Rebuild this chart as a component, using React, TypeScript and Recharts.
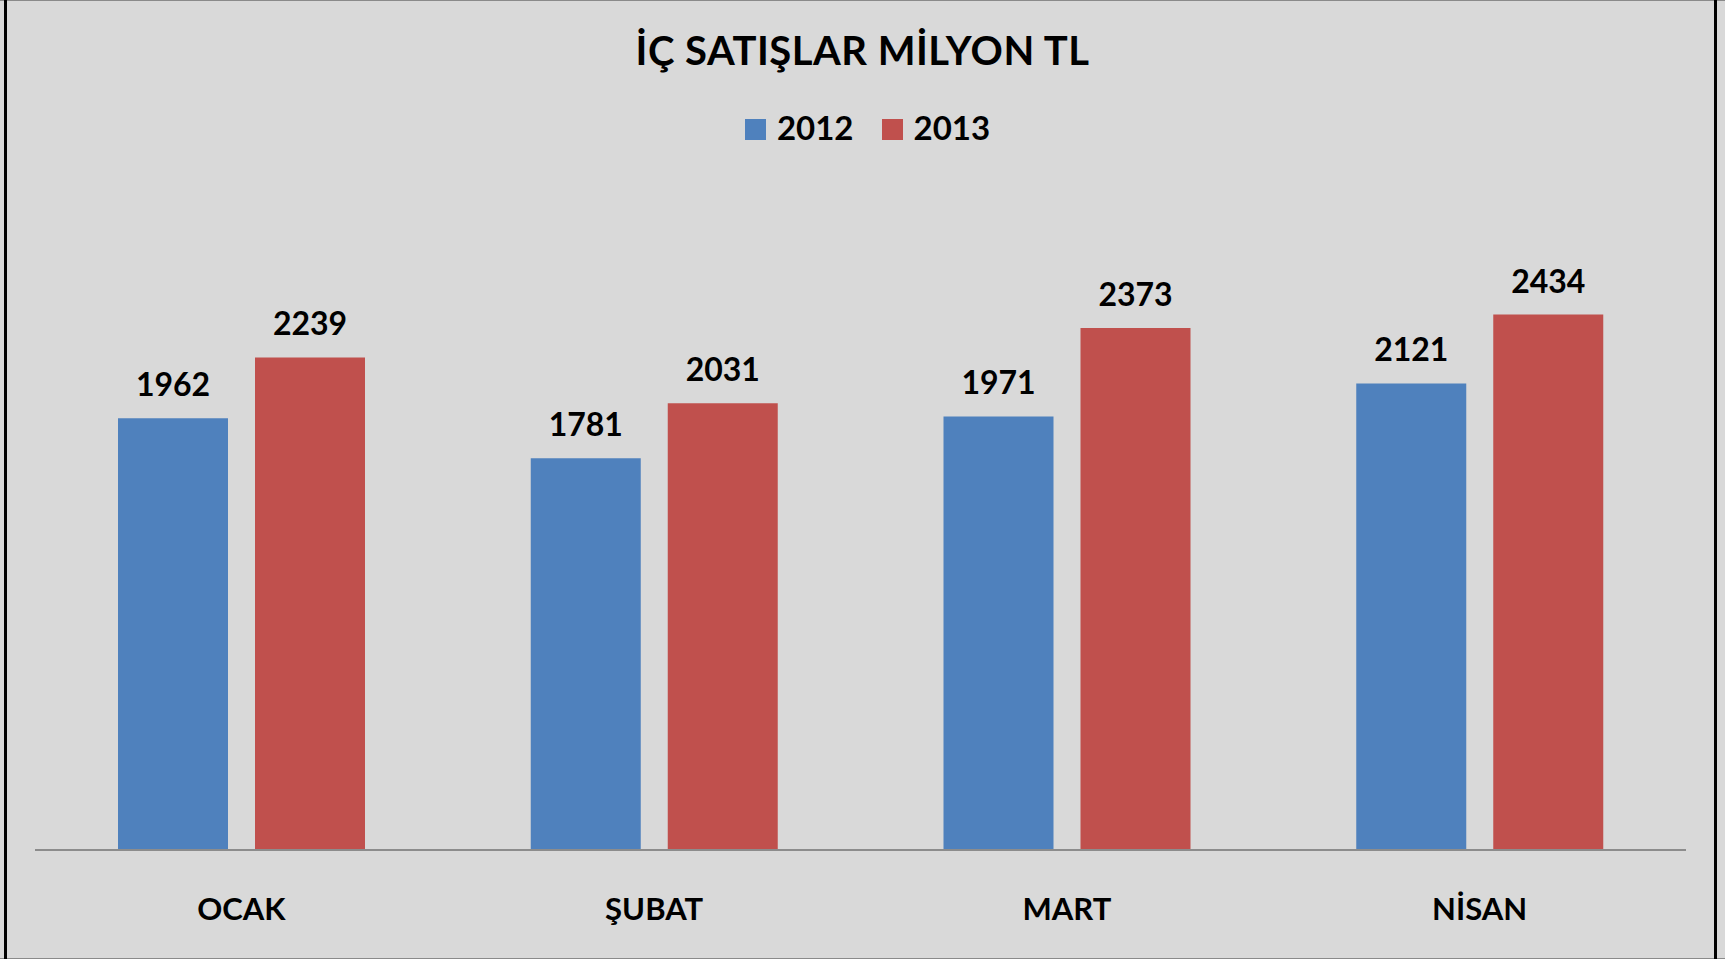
import React from 'react';
import { BarChart, Bar, XAxis, YAxis, Legend, LabelList } from 'recharts';

const months = ['OCAK', 'ŞUBAT', 'MART', 'NİSAN'];
const sales2012 = [1962, 1781, 1971, 2121];
const sales2013 = [2239, 2031, 2373, 2434];
const seriesNames = ['2012', '2013'];
const titleText = 'İÇ SATIŞLAR MİLYON TL';

const data = months.map((m, i) => ({ month: m, s2012: sales2012[i], s2013: sales2013[i] }));

const FONT = 'Lato, "Open Sans", sans-serif';
const BG = '#D9D9D9';
const BLUE = '#4F81BD';
const RED = '#C0504D';

const LegendContent = (props: any) => {
  const payload = props.payload || [];
  return (
    <div style={{ display: 'flex', justifyContent: 'center', alignItems: 'flex-start', height: 40, paddingLeft: 10 }}>
      {payload.map((p: any, i: number) => (
        <div key={i} style={{ display: 'flex', alignItems: 'flex-start', marginLeft: i === 0 ? 0 : 28 }}>
          <div style={{ width: 21, height: 21, marginTop: 12, background: p.color, marginRight: 11 }} />
          <span style={{ fontFamily: FONT, fontWeight: 700, fontSize: 33, lineHeight: '40px', color: '#000' }}>
            {p.value}
          </span>
        </div>
      ))}
    </div>
  );
};

export default function App() {
  return (
    <div style={{ position: 'absolute', left: 0, top: 0, width: 1725, height: 959, background: BG }}>
      <div style={{ position: 'absolute', left: 0, top: 0, width: 1725, height: 1, background: '#8a8a8a' }} />
      <div style={{ position: 'absolute', left: 0, top: 958, width: 1725, height: 1, background: '#8a8a8a' }} />
      <div style={{ position: 'absolute', left: 4, top: 0, width: 3, height: 959, background: '#000' }} />
      <div style={{ position: 'absolute', left: 1714, top: 0, width: 3, height: 959, background: '#000' }} />
      <div
        style={{
          position: 'absolute',
          left: 0,
          top: 25,
          width: 1725,
          height: 50,
          lineHeight: '50px',
          textAlign: 'center',
          fontFamily: FONT,
          fontWeight: 700,
          fontSize: 40,
          letterSpacing: 0.5,
          color: '#000',
        }}
      >
        {titleText}
      </div>
      <div style={{ position: 'absolute', left: 0, top: 0 }}>
        <BarChart
          width={1725}
          height={959}
          data={data}
          margin={{ top: 190, right: 39, left: 35, bottom: 49 }}
          barSize={110}
          barGap={27}
        >
          <XAxis
            dataKey="month"
            axisLine={{ stroke: '#8c8c8c', strokeWidth: 2 }}
            tickLine={false}
            tickSize={0}
            tickMargin={48}
            height={60}
            tick={{ fill: '#000', fontFamily: FONT, fontWeight: 700, fontSize: 31 }}
          />
          <YAxis hide domain={[0, 3000]} />
          <Legend
            layout="horizontal"
            verticalAlign="middle"
            align="center"
            content={<LegendContent />}
            wrapperStyle={{ top: 107, left: 0, width: 1725 }}
          />
          <Bar dataKey="s2012" name={seriesNames[0]} fill={BLUE} isAnimationActive={false}>
            <LabelList dataKey="s2012" position="top" offset={22} fill="#000" fontFamily={FONT} fontWeight={700} fontSize={32} />
          </Bar>
          <Bar dataKey="s2013" name={seriesNames[1]} fill={RED} isAnimationActive={false}>
            <LabelList dataKey="s2013" position="top" offset={22} fill="#000" fontFamily={FONT} fontWeight={700} fontSize={32} />
          </Bar>
        </BarChart>
      </div>
    </div>
  );
}
